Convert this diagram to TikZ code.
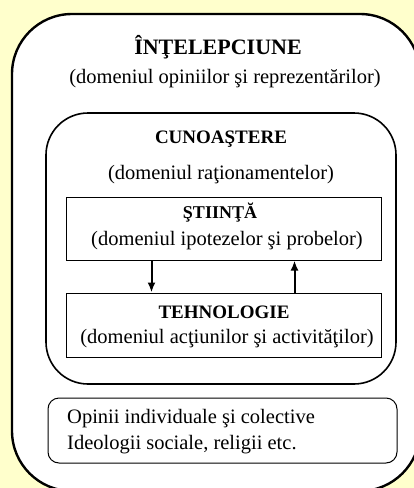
\documentclass[tikz,border=0pt]{standalone}
\usepackage{fontspec}
\setmainfont{Liberation Serif}
\usetikzlibrary{arrows.meta}
\definecolor{bgyellow}{RGB}{255,255,204}
\tikzset{
  frame/.style={draw=black, fill=white, inner sep=0pt},
  plainbox/.style={draw=black, fill=white, line width=1pt, inner sep=0pt, align=center},
  head/.style={font=\fontsize{19}{22}\selectfont\bfseries, inner sep=0pt},
  sub/.style={font=\fontsize{20.5}{24}\selectfont, inner sep=0pt},
  arr/.style={line width=2pt, -{Latex[length=10pt,width=8pt]}}
}
\begin{document}
\begin{tikzpicture}[x=1pt,y=-1pt]
\useasboundingbox (0,0) rectangle (414,488);
\fill[bgyellow] (0,0) rectangle (414,488);
\clip (0,0) rectangle (414,488);
% outer box
\node[frame, line width=2.4pt, rounded corners=60pt, minimum width=408pt, minimum height=477pt] (outer) at (216,252.5) {};
\node[head, font=\fontsize{22}{26}\selectfont\bfseries] (t1) at (218,47) {ÎNŢELEPCIUNE};
\node[sub] (s1) at (225,79) {(domeniul opiniilor şi reprezentărilor)};
% knowledge box
\node[frame, line width=1.6pt, rounded corners=42pt, minimum width=350pt, minimum height=271pt] (know) at (221,248.5) {};
\node[head] (t2) at (221,139) {CUNOAŞTERE};
\node[sub] (s2) at (221,175) {(domeniul raţionamentelor)};
% science box
\node[plainbox, minimum width=315pt, minimum height=63pt] (sci) at (223.5,228.5) {};
\node[head, font=\fontsize{18}{22}\selectfont\bfseries] (t3) at (220,213) {ŞTIINŢĂ};
\node[sub] (s3) at (227,241) {(domeniul ipotezelor şi probelor)};
% technology box
\node[plainbox, minimum width=315pt, minimum height=64pt] (tech) at (223.5,325) {};
\node[head] (t4) at (224,312) {TEHNOLOGIE};
\node[sub] (s4) at (227,339) {(domeniul acţiunilor şi activităţilor)};
% arrows
\draw[arr] ([xshift=86pt]sci.south west) -- ([xshift=86pt]tech.north west);
\draw[arr] ([xshift=229pt]tech.north west) -- ([xshift=229pt]sci.south west);
% opinions box
\node[plainbox, rounded corners=11pt, minimum width=349pt, minimum height=65pt] (op) at (222.5,430.5) {};
\node[sub, anchor=west, align=left, font=\fontsize{20.5}{26}\selectfont] (ot) at (67,432) {Opinii individuale şi colective\\Ideologii sociale, religii etc.};
\end{tikzpicture}
\end{document}
